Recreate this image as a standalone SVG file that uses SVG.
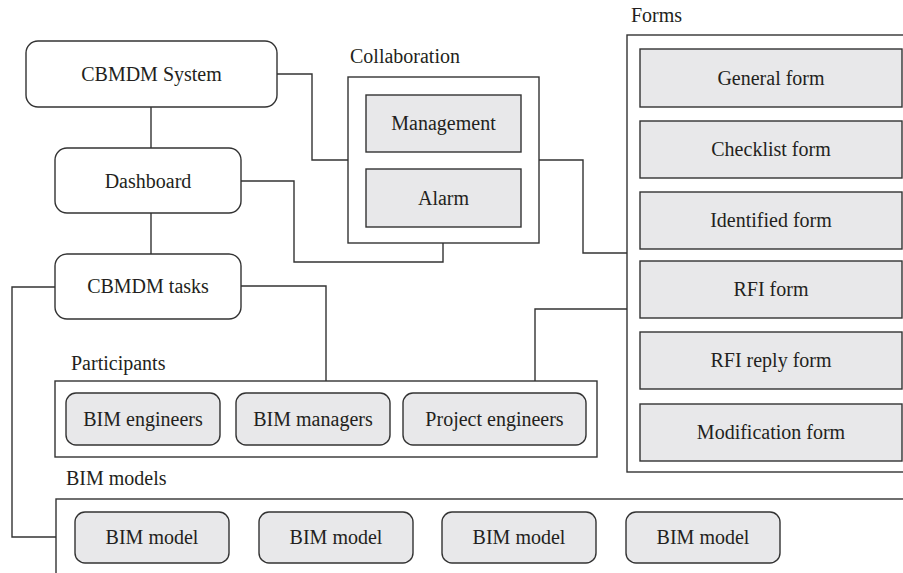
<svg xmlns="http://www.w3.org/2000/svg" width="903" height="573" viewBox="0 0 903 573">
<style>
  text { font-family: "Times New Roman", "Liberation Serif", Tinos, serif; font-size: 20px; fill: #231f20; }
  .c { text-anchor: middle; }
  .node { fill: #ffffff; stroke: #333333; stroke-width: 1.4; }
  .frame { fill: none; stroke: #333333; stroke-width: 1.4; }
  .item { fill: #e8e8ea; stroke: #333333; stroke-width: 1.4; }
  .conn { fill: none; stroke: #333333; stroke-width: 1.4; }
</style>
<rect width="903" height="573" fill="#ffffff"/>

<g id="connectors">
  <polyline class="conn" points="151,107 151,148"/>
  <polyline class="conn" points="151,213 151,254"/>
  <polyline class="conn" points="277,74 312,74 312,160 348,160"/>
  <polyline class="conn" points="241,181 294,181 294,262 443,262 443,243"/>
  <polyline class="conn" points="539,160 583,160 583,253 627,253"/>
  <polyline class="conn" points="241,286 326,286 326,381"/>
  <polyline class="conn" points="627,309 535,309 535,381"/>
  <polyline class="conn" points="55,287 12,287 12,537 56,537"/>
</g>

<g id="cbmdm-system">
  <rect class="node" x="26" y="41" width="251" height="66" rx="12"/>
  <text class="c" x="151.5" y="81">CBMDM System</text>
</g>
<g id="dashboard">
  <rect class="node" x="55" y="148" width="186" height="65" rx="12"/>
  <text class="c" x="148" y="188">Dashboard</text>
</g>
<g id="cbmdm-tasks">
  <rect class="node" x="55" y="254" width="186" height="65" rx="12"/>
  <text class="c" x="148" y="293">CBMDM tasks</text>
</g>

<g id="collaboration">
  <text x="350" y="63">Collaboration</text>
  <rect class="frame" x="348" y="77" width="191" height="166"/>
  <g id="management">
    <rect class="item" x="366" y="95" width="155" height="57"/>
    <text class="c" x="443.5" y="130">Management</text>
  </g>
  <g id="alarm">
    <rect class="item" x="366" y="169" width="155" height="58"/>
    <text class="c" x="443.5" y="205">Alarm</text>
  </g>
</g>

<g id="forms">
  <text x="631" y="22">Forms</text>
  <rect class="frame" x="627" y="35" width="290" height="437"/>
  <g id="general-form">
    <rect class="item" x="640" y="49" width="262" height="58"/>
    <text class="c" x="771" y="85">General form</text>
  </g>
  <g id="checklist-form">
    <rect class="item" x="640" y="121" width="262" height="57"/>
    <text class="c" x="771" y="156">Checklist form</text>
  </g>
  <g id="identified-form">
    <rect class="item" x="640" y="192" width="262" height="57"/>
    <text class="c" x="771" y="227">Identified form</text>
  </g>
  <g id="rfi-form">
    <rect class="item" x="640" y="261" width="262" height="57"/>
    <text class="c" x="771" y="296">RFI form</text>
  </g>
  <g id="rfi-reply-form">
    <rect class="item" x="640" y="332" width="262" height="57"/>
    <text class="c" x="771" y="367">RFI reply form</text>
  </g>
  <g id="modification-form">
    <rect class="item" x="640" y="404" width="262" height="57"/>
    <text class="c" x="771" y="439">Modification form</text>
  </g>
</g>

<g id="participants">
  <text x="71" y="370">Participants</text>
  <rect class="frame" x="55" y="381" width="542" height="76"/>
  <g id="bim-engineers">
    <rect class="item" x="66" y="393" width="154" height="52" rx="10"/>
    <text class="c" x="143" y="426">BIM engineers</text>
  </g>
  <g id="bim-managers">
    <rect class="item" x="236" y="393" width="154" height="52" rx="10"/>
    <text class="c" x="313" y="426">BIM managers</text>
  </g>
  <g id="project-engineers">
    <rect class="item" x="403" y="393" width="183" height="52" rx="10"/>
    <text class="c" x="494.5" y="426">Project engineers</text>
  </g>
</g>

<g id="bim-models">
  <text x="66" y="485">BIM models</text>
  <rect class="frame" x="56" y="499" width="870" height="100"/>
  <g id="bim-model-1">
    <rect class="item" x="75" y="512" width="154" height="51" rx="10"/>
    <text class="c" x="152" y="544">BIM model</text>
  </g>
  <g id="bim-model-2">
    <rect class="item" x="259" y="512" width="154" height="51" rx="10"/>
    <text class="c" x="336" y="544">BIM model</text>
  </g>
  <g id="bim-model-3">
    <rect class="item" x="442" y="512" width="154" height="51" rx="10"/>
    <text class="c" x="519" y="544">BIM model</text>
  </g>
  <g id="bim-model-4">
    <rect class="item" x="626" y="512" width="154" height="51" rx="10"/>
    <text class="c" x="703" y="544">BIM model</text>
  </g>
</g>
</svg>
